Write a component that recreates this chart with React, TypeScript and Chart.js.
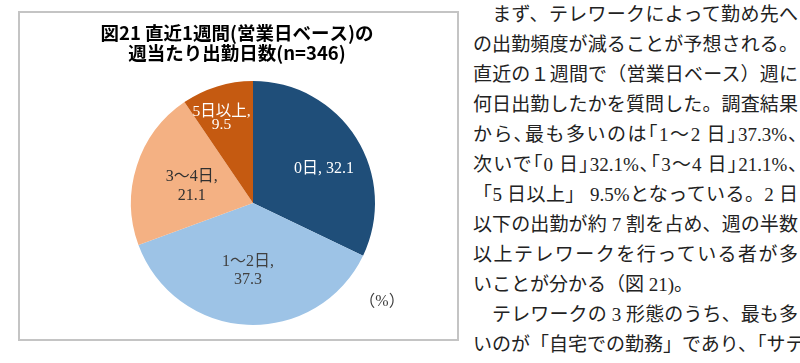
import React, { useEffect, useRef } from "react";
import { Chart, registerables } from "chart.js";

Chart.register(...registerables);

// ---- data ----
const categories = ["0日", "1～2日", "3～4日", "5日以上"];
const values = [32.1, 37.3, 21.1, 9.5];
const sliceColors = ["#1F4E79", "#9DC3E6", "#F4B183", "#C55A11"];
const titleLines = ["図21 直近1週間(営業日ベース)の", "週当たり出勤日数(n=346)"];
const unitLabel = "（%）";
const bodyLines = [
  "　まず、テレワークによって勤め先へ",
  "の出勤頻度が減ることが予想される。",
  "直近の１週間で（営業日ベース）週に",
  "何日出勤したかを質問した。調査結果",
  "から､最も多いのは｢1～2 日｣37.3%､",
  "次いで｢0 日｣32.1%､｢3～4 日｣21.1%､",
  "「5 日以上」 9.5%となっている。2 日",
  "以下の出勤が約 7 割を占め、週の半数",
  "以上テレワークを行っている者が多",
  "いことが分かる（図 21)。",
  "　テレワークの 3 形態のうち、最も多",
  "いのが「自宅での勤務」であり、「サテ",
];
const justifiedBody = [true, true, true, true, true, true, true, true, true, false, true, true];

// label placement styling (not data)
const labelStyles = [
  { frac: 0.645, da: 6.6, color: "#ffffff", split: false, lh: 18, size: 16 },
  { frac: 0.56, da: 1.5, color: "#404040", split: true, lh: 18, size: 16 },
  { frac: 0.52, da: -3, color: "#303030", split: true, lh: 19, size: 16 },
  { frac: 0.74, da: -3.3, color: "#ffffff", split: true, lh: 13, size: 15.5 },
];

const labelPlugin = {
  id: "sliceLabels",
  afterDatasetsDraw(chart: any) {
    const ctx = chart.ctx;
    const meta = chart.getDatasetMeta(0);
    ctx.save();
    ctx.textAlign = "center";
    ctx.textBaseline = "middle";
    meta.data.forEach((arc: any, i: number) => {
      const p = arc.getProps(["x", "y", "startAngle", "endAngle", "outerRadius"], true);
      const st = labelStyles[i];
      ctx.font = `${st.size}px "Liberation Serif", "Noto Sans CJK JP", serif`;
      const mid = (p.startAngle + p.endAngle) / 2 + (st.da * Math.PI) / 180;
      const r = p.outerRadius * st.frac;
      const cx = p.x + Math.cos(mid) * r;
      const cy = p.y + Math.sin(mid) * r;
      const v = values[i].toFixed(1);
      const lines = st.split ? [categories[i] + ",", v] : [categories[i] + ", " + v];
      ctx.fillStyle = st.color;
      const h = (lines.length - 1) * st.lh;
      lines.forEach((t, k) => {
        ctx.fillText(t, cx, cy - h / 2 + k * st.lh);
      });
    });
    // unit label
    const a = meta.data[0];
    if (a) {
      ctx.fillStyle = "#404040";
      ctx.font = '16px "Liberation Serif", "Noto Sans CJK JP", serif';
      ctx.fillText(unitLabel, a.x + 129, a.y + 99);
    }
    ctx.restore();
  },
  afterDraw(chart: any) {
    const ctx = chart.ctx;
    ctx.save();
    ctx.font = 'bold 18.5px "Noto Sans CJK JP", sans-serif';
    ctx.fillStyle = "#000000";
    ctx.textAlign = "center";
    ctx.textBaseline = "middle";
    titleLines.forEach((t, k) => ctx.fillText(t, 218, 21 + k * 20));
    ctx.restore();
  },
};

export default function App() {
  const ref = useRef<HTMLCanvasElement | null>(null);

  useEffect(() => {
    if (!ref.current) return;
    const chart = new Chart(ref.current, {
      type: "pie",
      data: {
        labels: categories,
        datasets: [
          {
            data: values,
            backgroundColor: sliceColors,
            borderWidth: 0,
            hoverOffset: 0,
          },
        ],
      },
      options: {
        responsive: false,
        animation: false,
        events: [],
        layout: { padding: { top: 69, bottom: 16, left: 112, right: 84 } },
        plugins: {
          legend: { display: false },
          tooltip: { enabled: false },
          title: { display: false },
        },
      } as any,
      plugins: [labelPlugin as any],
    });
    return () => chart.destroy();
  }, []);

  return (
    <div
      style={{
        position: "fixed",
        left: 0,
        top: 0,
        width: 800,
        height: 363,
        background: "#ffffff",
        overflow: "hidden",
      }}
    >
      <div
        style={{
          position: "absolute",
          left: 18,
          top: 11,
          width: 441,
          height: 330,
          border: "2px solid #c4c4c4",
          boxSizing: "border-box",
        }}
      />
      <canvas
        ref={ref}
        width={440}
        height={329}
        style={{ position: "absolute", left: 19, top: 12, width: 440, height: 329 }}
      />
      {bodyLines.map((t, i) => (
        <div
          key={i}
          style={{
            position: "absolute",
            left: 473,
            top: i * 30,
            width: 325,
            height: 30,
            lineHeight: "30px",
            fontSize: 19,
            fontFamily: '"Liberation Serif", "Noto Sans CJK JP", serif',
            color: "#222222",
            whiteSpace: "nowrap",
            textAlign: justifiedBody[i] ? "justify" : "left",
            textAlignLast: justifiedBody[i] ? "justify" : "left",
          } as any}
        >
          {t}
        </div>
      ))}
    </div>
  );
}
